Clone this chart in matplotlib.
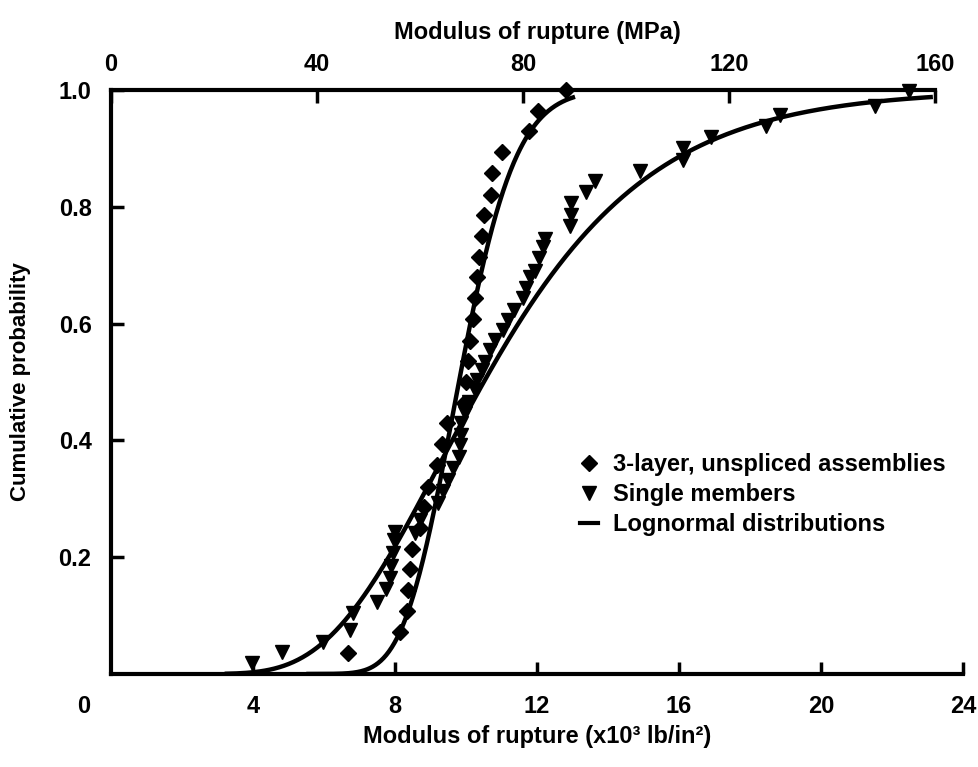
import math
import numpy as np
import matplotlib
matplotlib.use("Agg")
import matplotlib.pyplot as plt
from matplotlib.lines import Line2D

plt.rcParams["font.family"] = ["Liberation Sans", "DejaVu Sans"]
plt.rcParams["font.weight"] = "bold"

# 3-layer, unspliced assemblies (x10^3 lb/in^2, cumulative probability)
layer3_x = [6.68, 8.14, 8.33, 8.36, 8.42, 8.48, 8.70, 8.82, 8.93, 9.18, 9.32, 9.46, 9.94, 10.00,
            10.06, 10.11, 10.20, 10.25, 10.31, 10.37, 10.45, 10.51, 10.70, 10.73, 11.01, 11.77,
            12.03, 12.82]
layer3_y = [0.036, 0.071, 0.107, 0.143, 0.179, 0.214, 0.250, 0.286, 0.321, 0.357, 0.393, 0.429,
            0.464, 0.500, 0.536, 0.571, 0.607, 0.643, 0.679, 0.714, 0.750, 0.786, 0.821, 0.857,
            0.893, 0.929, 0.964, 1.000]

# single members
single_x = [3.97, 4.82, 5.97, 6.73, 6.82, 7.49, 7.75, 7.85, 7.90, 7.95, 7.98, 8.00, 8.56, 8.70,
            9.21, 9.35, 9.49, 9.63, 9.80, 9.83, 9.85, 9.86, 9.96, 10.08, 10.25, 10.30, 10.45,
            10.54, 10.68, 10.82, 11.03, 11.18, 11.35, 11.60, 11.70, 11.80, 11.94, 12.06, 12.17,
            12.23, 12.93, 12.96, 12.96, 13.38, 13.63, 14.90, 16.10, 16.10, 16.90, 18.45, 18.85,
            21.52, 22.48]
single_y = [0.019, 0.037, 0.055, 0.075, 0.104, 0.123, 0.145, 0.165, 0.185, 0.207, 0.229, 0.243,
            0.241, 0.264, 0.293, 0.313, 0.332, 0.353, 0.372, 0.392, 0.410, 0.430, 0.447, 0.466,
            0.486, 0.503, 0.520, 0.534, 0.555, 0.572, 0.589, 0.606, 0.623, 0.644, 0.661, 0.680,
            0.690, 0.712, 0.731, 0.745, 0.767, 0.786, 0.806, 0.825, 0.844, 0.861, 0.880, 0.900,
            0.920, 0.938, 0.957, 0.973, 0.998]

# fitted lognormal distributions: (median, sigma of ln, x range)
fit_layer3 = (9.8, 0.127, 5.5, 13.07)
fit_single = (10.5, 0.35, 3.2, 23.15)

xticks = [4, 8, 12, 16, 20, 24]
yticks = [0.2, 0.4, 0.6, 0.8, 1.0]
mpa_ticks = [0, 40, 80, 120, 160]
KSI_TO_MPA = 6.894757


def lognorm_cdf(x, med, s):
    return np.array([0.5 * (1 + math.erf(math.log(v / med) / (s * math.sqrt(2)))) for v in x])


fig = plt.figure(figsize=(9.79, 7.67), dpi=100)
ax = fig.add_axes([0.1134, 0.1213, 0.8703, 0.7614])

for med, s, x0, x1 in (fit_layer3, fit_single):
    xs = np.linspace(x0, x1, 300)
    ax.plot(xs, lognorm_cdf(xs, med, s), color="black", lw=3.2, solid_capstyle="butt", zorder=2)

ax.plot(layer3_x, layer3_y, "D", color="black", ms=8, ls="none", zorder=3, clip_on=False)
ax.plot(single_x, single_y, "v", color="black", ms=10, ls="none", zorder=3, clip_on=False)

ax.set_xlim(0, 24)
ax.set_ylim(0, 1.0)
ax.set_xticks(xticks)
ax.set_yticks(yticks)
ax.set_yticklabels(["0.2", "0.4", "0.6", "0.8", "1.0"])
ax.tick_params(direction="in", length=9, width=2.5, labelsize=17)
ax.tick_params(axis="x", pad=15)
ax.tick_params(axis="y", pad=14)
for lab in ax.get_xticklabels() + ax.get_yticklabels():
    lab.set_fontweight("bold")
ax.spines["right"].set_visible(False)
ax.spines["top"].set_visible(False)
ax.spines["left"].set_linewidth(3)
ax.spines["bottom"].set_linewidth(3)
ax.annotate("0", xy=(0, 0), xycoords=ax.get_xaxis_transform(), xytext=(-20, -15),
            textcoords="offset points", ha="center", va="top", fontsize=17, fontweight="bold",
            annotation_clip=False)

ax.set_xlabel("Modulus of rupture (x10³ lb/in²)", fontsize=17, fontweight="bold", labelpad=5)
ax.set_ylabel("Cumulative probability", fontsize=16, fontweight="bold", labelpad=20)

top = ax.twiny()
top.set_xlim(0, 24 * KSI_TO_MPA)
top.set_xticks(mpa_ticks)
top.tick_params(direction="in", length=9, width=2.5, labelsize=17, pad=10)
for lab in top.get_xticklabels():
    lab.set_fontweight("bold")
for side in ("left", "right", "bottom"):
    top.spines[side].set_visible(False)
top.spines["top"].set_linewidth(3)
top.spines["top"].set_bounds(0, 160)
top.set_xlabel("Modulus of rupture (MPa)", fontsize=17, fontweight="bold", labelpad=10)

handles = [
    Line2D([], [], marker="D", color="black", ls="none", ms=8),
    Line2D([], [], marker="v", color="black", ls="none", ms=10),
    Line2D([], [], color="black", lw=3),
]
labels = ["3-layer, unspliced assemblies", "Single members", "Lognormal distributions"]
leg = ax.legend(handles, labels, loc="upper left", bbox_to_anchor=(0.525, 0.415), frameon=False,
                handlelength=0.8, handletextpad=0.6, labelspacing=0.3,
                prop={"size": 17, "weight": "bold"})

fig.savefig("out.png", dpi=100)
